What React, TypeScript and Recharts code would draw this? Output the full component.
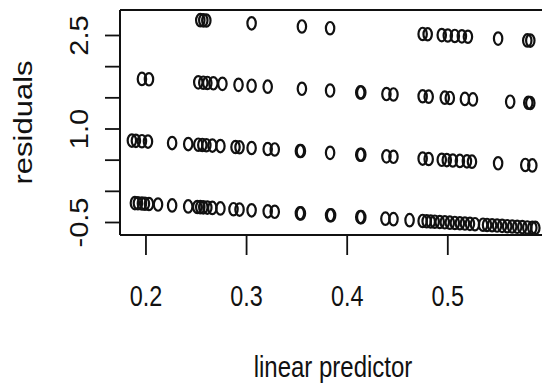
import React from 'react';
import { ScatterChart, Scatter, XAxis, YAxis, ReferenceLine } from 'recharts';

// linear predictor values (x) and residuals (y) for each residual band
const band3X = [0.254, 0.257, 0.26, 0.305, 0.355, 0.383, 0.475, 0.48, 0.494, 0.5, 0.507, 0.514, 0.52, 0.55, 0.579, 0.582];
const band3R = [2.746, 2.743, 2.74, 2.695, 2.645, 2.617, 2.525, 2.52, 2.506, 2.5, 2.493, 2.486, 2.48, 2.45, 2.421, 2.418];

const band2X = [0.196, 0.203, 0.252, 0.257, 0.261, 0.267, 0.276, 0.292, 0.305, 0.321, 0.355, 0.383, 0.413, 0.414, 0.439, 0.446, 0.475, 0.481, 0.497, 0.502, 0.517, 0.525, 0.562, 0.58, 0.582];
const band2R = [1.804, 1.797, 1.748, 1.743, 1.739, 1.733, 1.724, 1.708, 1.695, 1.679, 1.645, 1.617, 1.587, 1.586, 1.561, 1.554, 1.525, 1.519, 1.503, 1.498, 1.483, 1.475, 1.438, 1.42, 1.418];

const band1X = [0.186, 0.19, 0.196, 0.202, 0.226, 0.242, 0.252, 0.256, 0.26, 0.266, 0.274, 0.289, 0.293, 0.305, 0.321, 0.328, 0.353, 0.354, 0.383, 0.413, 0.414, 0.439, 0.446, 0.475, 0.481, 0.494, 0.499, 0.505, 0.512, 0.519, 0.524, 0.55, 0.577, 0.584];
const band1R = [0.814, 0.81, 0.804, 0.798, 0.774, 0.758, 0.748, 0.744, 0.74, 0.734, 0.726, 0.711, 0.707, 0.695, 0.679, 0.672, 0.647, 0.646, 0.617, 0.587, 0.586, 0.561, 0.554, 0.525, 0.519, 0.506, 0.501, 0.495, 0.488, 0.481, 0.476, 0.45, 0.423, 0.416];

const band0X = [0.189, 0.192, 0.196, 0.199, 0.203, 0.212, 0.226, 0.242, 0.251, 0.254, 0.257, 0.261, 0.266, 0.274, 0.287, 0.293, 0.305, 0.321, 0.328, 0.353, 0.354, 0.383, 0.384, 0.413, 0.414, 0.438, 0.446, 0.462, 0.475, 0.479, 0.483, 0.487, 0.492, 0.497, 0.502, 0.507, 0.512, 0.517, 0.522, 0.527, 0.535, 0.539, 0.544, 0.549, 0.554, 0.559, 0.564, 0.569, 0.574, 0.579, 0.584, 0.587];
const band0R = [-0.189, -0.192, -0.196, -0.199, -0.203, -0.212, -0.226, -0.242, -0.251, -0.254, -0.257, -0.261, -0.266, -0.274, -0.287, -0.293, -0.305, -0.321, -0.328, -0.353, -0.354, -0.383, -0.384, -0.413, -0.414, -0.438, -0.446, -0.462, -0.475, -0.479, -0.483, -0.487, -0.492, -0.497, -0.502, -0.507, -0.512, -0.517, -0.522, -0.527, -0.535, -0.539, -0.544, -0.549, -0.554, -0.559, -0.564, -0.569, -0.574, -0.579, -0.584, -0.587];

const xTicks = [0.2, 0.3, 0.4, 0.5];
const yTicks = [-0.5, 0, 0.5, 1, 1.5, 2, 2.5];
const yTickLabels: Record<string, string> = { '-0.5': '-0.5', '1': '1.0', '2.5': '2.5' };

const X_DOMAIN: [number, number] = [0.1742, 0.5976];
const Y_DOMAIN: [number, number] = [-0.7005, 2.909];

const INK = '#111';
const FONT = '"Liberation Sans", Arial, Helvetica, sans-serif';

const toPoints = (xs: number[], rs: number[]) => xs.map((x, i) => ({ x, r: rs[i] }));

const Ring = (props: any) => {
  const { cx, cy } = props;
  if (cx == null || cy == null) return null;
  return <ellipse cx={cx} cy={cy} rx={4.2} ry={6.2} fill="none" stroke={INK} strokeWidth={2.2} />;
};

const XTick = (props: any) => {
  const { x, y, payload } = props;
  return (
    <text
      transform={`translate(${x},${y + 51}) scale(0.78,1)`}
      textAnchor="middle"
      fontFamily={FONT}
      fontSize={30}
      fill={INK}
    >
      {payload.value.toFixed(1)}
    </text>
  );
};

const YTick = (props: any) => {
  const { x, y, payload } = props;
  const label = yTickLabels[String(payload.value)];
  if (!label) return null;
  return (
    <text
      transform={`translate(${x - 17},${y}) rotate(-90) scale(1,0.88)`}
      textAnchor="middle"
      fontFamily={FONT}
      fontSize={29}
      fill={INK}
    >
      {label}
    </text>
  );
};

const XLabel = (props: any) => {
  const vb = props.viewBox;
  return (
    <text
      transform={`translate(${vb.x + vb.width / 2},${vb.y + 142}) scale(0.8,1)`}
      textAnchor="middle"
      fontFamily={FONT}
      fontSize={30}
      fill={INK}
    >
      linear predictor
    </text>
  );
};

const YLabel = (props: any) => {
  const vb = props.viewBox;
  return (
    <text
      transform={`translate(${vb.x + 32},${vb.y + vb.height / 2}) rotate(-90) scale(1,0.86)`}
      textAnchor="middle"
      fontFamily={FONT}
      fontSize={31}
      fill={INK}
    >
      residuals
    </text>
  );
};

export default function App() {
  return (
    <div style={{ position: 'absolute', left: 0, top: 0, width: 542, height: 390, overflow: 'hidden', background: '#fff' }}>
      <ScatterChart width={546} height={390} margin={{ top: 10, right: 0, bottom: 0, left: 0 }}>
        <XAxis
          type="number"
          dataKey="x"
          domain={X_DOMAIN}
          allowDataOverflow
          ticks={xTicks}
          height={155}
          tickSize={20}
          tickMargin={0}
          axisLine={{ stroke: INK, strokeWidth: 2 }}
          tickLine={{ stroke: INK, strokeWidth: 1.8 }}
          tick={<XTick />}
          label={<XLabel />}
        />
        <YAxis
          type="number"
          dataKey="r"
          domain={Y_DOMAIN}
          allowDataOverflow
          ticks={yTicks}
          width={120}
          tickSize={15}
          tickMargin={0}
          axisLine={{ stroke: INK, strokeWidth: 2 }}
          tickLine={{ stroke: INK, strokeWidth: 1.8 }}
          tick={<YTick />}
          label={<YLabel />}
        />
        <ReferenceLine y={Y_DOMAIN[1]} stroke={INK} strokeWidth={2} />
        <Scatter data={toPoints(band0X, band0R)} shape={<Ring />} isAnimationActive={false} />
        <Scatter data={toPoints(band1X, band1R)} shape={<Ring />} isAnimationActive={false} />
        <Scatter data={toPoints(band2X, band2R)} shape={<Ring />} isAnimationActive={false} />
        <Scatter data={toPoints(band3X, band3R)} shape={<Ring />} isAnimationActive={false} />
      </ScatterChart>
    </div>
  );
}
